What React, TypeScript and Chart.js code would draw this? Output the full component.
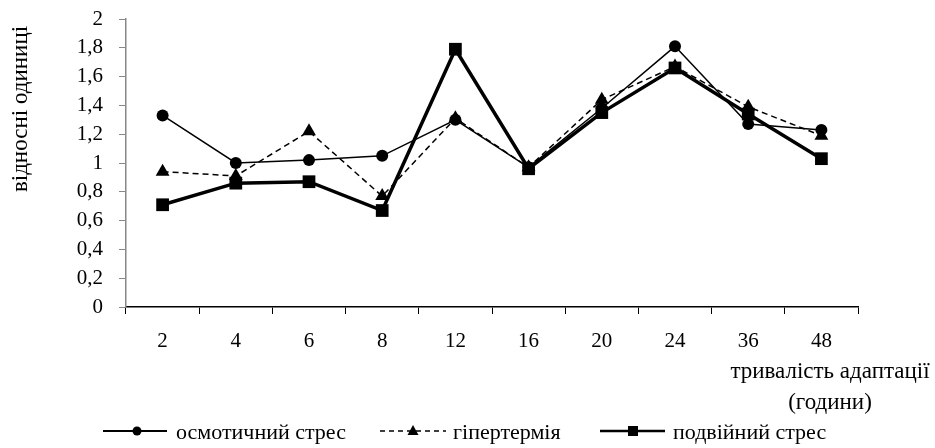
import React, { useEffect, useRef } from "react";
import { Chart, registerables } from "chart.js";

Chart.register(...registerables);

const categories = ["2", "4", "6", "8", "12", "16", "20", "24", "36", "48"];
const osmotic = [1.33, 1.0, 1.02, 1.05, 1.3, 0.97, 1.38, 1.81, 1.27, 1.23];
const hyperthermia = [0.94, 0.91, 1.22, 0.77, 1.31, 0.97, 1.44, 1.67, 1.39, 1.19];
const doubleStress = [0.71, 0.86, 0.87, 0.67, 1.79, 0.96, 1.35, 1.66, 1.34, 1.03];
const seriesNames = ["осмотичний стрес", "гіпертермія", "подвійний стрес"];
const yTitle = "відносні одиниці";
const xTitleLines = ["тривалість адаптації", "(години)"];

const FONT = "'Liberation Serif', 'Times New Roman', serif";

const overlay = {
  id: "overlay",
  afterDraw(chart: any) {
    const ctx = chart.ctx;
    ctx.save();
    ctx.fillStyle = "#000";
    ctx.font = `23px ${FONT}`;
    // y title
    ctx.save();
    ctx.translate(21, 109);
    ctx.rotate(-Math.PI / 2);
    ctx.textAlign = "center";
    ctx.textBaseline = "middle";
    ctx.fillText(yTitle, 0, 0);
    ctx.restore();
    // x title
    ctx.textAlign = "center";
    ctx.textBaseline = "middle";
    ctx.fillText(xTitleLines[0], 830, 372);
    ctx.fillText(xTitleLines[1], 830, 403);
    // legend
    ctx.font = `22px ${FONT}`;
    const ly = 431;
    const items = [
      { x1: 103, x2: 167, mx: 137, tx: 176, dash: [], lw: 2, style: "circle" },
      { x1: 380, x2: 446, mx: 413, tx: 453, dash: [5, 4], lw: 1.5, style: "triangle" },
      { x1: 600, x2: 665, mx: 633, tx: 673, dash: [], lw: 2.5, style: "rect" },
    ];
    items.forEach((it, i) => {
      ctx.save();
      ctx.strokeStyle = "#000";
      ctx.lineWidth = it.lw;
      ctx.setLineDash(it.dash);
      ctx.beginPath();
      ctx.moveTo(it.x1, ly);
      ctx.lineTo(it.x2, ly);
      ctx.stroke();
      ctx.setLineDash([]);
      ctx.beginPath();
      if (it.style === "circle") {
        ctx.arc(it.mx, ly, 4.5, 0, Math.PI * 2);
        ctx.fill();
      } else if (it.style === "triangle") {
        ctx.moveTo(it.mx, ly - 6);
        ctx.lineTo(it.mx + 5.5, ly + 4);
        ctx.lineTo(it.mx - 5.5, ly + 4);
        ctx.closePath();
        ctx.fill();
      } else {
        ctx.fillRect(it.mx - 5, ly - 5, 10, 10);
      }
      ctx.restore();
      ctx.textAlign = "left";
      ctx.textBaseline = "middle";
      ctx.fillText(seriesNames[i], it.tx, ly + 2);
    });
    ctx.restore();
  },
};

export default function App() {
  const ref = useRef<HTMLCanvasElement | null>(null);
  useEffect(() => {
    if (!ref.current) return;
    const chart = new Chart(ref.current, {
      type: "line",
      data: {
        labels: categories,
        datasets: [
          {
            label: seriesNames[0],
            data: osmotic,
            borderColor: "#000",
            backgroundColor: "#000",
            borderWidth: 1.5,
            pointStyle: "circle",
            pointRadius: 6,
            pointBorderWidth: 0,
            order: 2,
          },
          {
            label: seriesNames[1],
            data: hyperthermia,
            borderColor: "#000",
            backgroundColor: "#000",
            borderWidth: 1.5,
            borderDash: [6, 4],
            pointStyle: "triangle",
            pointRadius: 8,
            pointBorderWidth: 0,
            order: 3,
          },
          {
            label: seriesNames[2],
            data: doubleStress,
            borderColor: "#000",
            backgroundColor: "#000",
            borderWidth: 3.5,
            pointStyle: "rect",
            pointRadius: 9,
            pointBorderWidth: 0,
            order: 1,
          },
        ],
      },
      options: {
        animation: false,
        responsive: false,
        devicePixelRatio: 1,
        layout: { padding: { top: 19, right: 77, bottom: 0, left: 0 } },
        plugins: { legend: { display: false }, tooltip: { enabled: false } },
        elements: { line: { tension: 0 } },
        scales: {
          x: {
            offset: true,
            grid: {
              display: true,
              offset: true,
              drawOnChartArea: false,
              drawTicks: true,
              tickLength: 7,
              color: "#000",
            },
            border: { display: true, color: "#000", width: 1.5 },
            ticks: {
              color: "#000",
              font: { family: FONT, size: 21 },
              padding: 15,
              maxRotation: 0,
              autoSkip: false,
            },
            afterFit: (s: any) => {
              s.height = 141;
              s.paddingLeft = 0;
              s.paddingRight = 0;
            },
          },
          y: {
            min: 0,
            max: 2,
            grid: {
              display: true,
              drawOnChartArea: false,
              drawTicks: true,
              tickLength: 7,
              color: "#888",
            },
            border: { display: true, color: "#888", width: 1.5 },
            ticks: {
              stepSize: 0.2,
              color: "#000",
              font: { family: FONT, size: 21 },
              padding: 16,
              callback: (v: any) => String(Number(Number(v).toFixed(1))).replace(".", ","),
            },
            afterFit: (s: any) => {
              s.width = 126;
              s.paddingTop = 0;
              s.paddingBottom = 0;
            },
          },
        },
      },
      plugins: [overlay],
    });
    return () => chart.destroy();
  }, []);
  return (
    <div style={{ position: "absolute", left: 0, top: 0, width: 935, height: 448, background: "#fff" }}>
      <canvas ref={ref} width={935} height={448} style={{ width: 935, height: 448, display: "block" }} />
    </div>
  );
}
